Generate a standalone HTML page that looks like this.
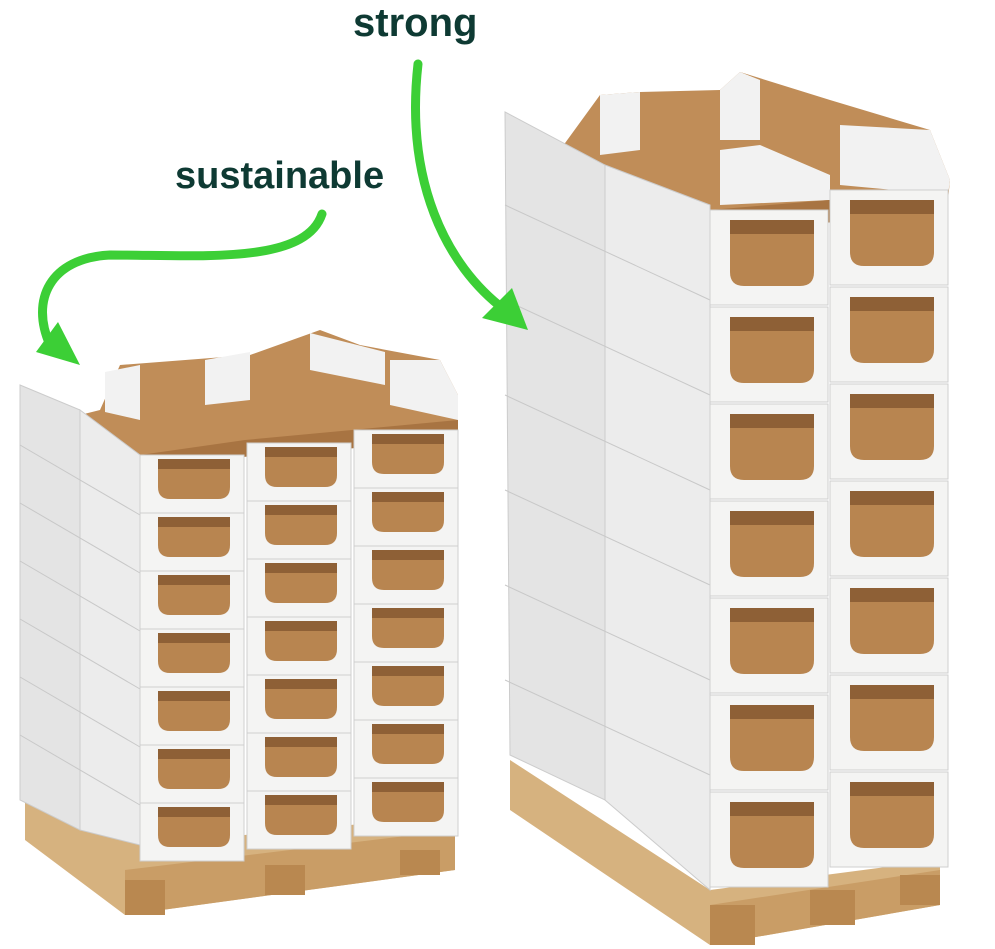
<!DOCTYPE html>
<html><head><meta charset="utf-8"><style>
html,body{margin:0;padding:0;background:#fff;}
svg{display:block;}
text{font-family:"Liberation Sans",sans-serif;font-weight:bold;fill:#0e3a33;}
</style></head><body>
<svg width="995" height="949" viewBox="0 0 995 949" xmlns="http://www.w3.org/2000/svg">
<defs>
<g id="boxL">
 <rect x="0" y="0" width="104" height="58" fill="#f4f4f3" stroke="#cfcfcf" stroke-width="1"/>
 <path d="M18,4 L90,4 L90,32 Q90,44 78,44 L30,44 Q18,44 18,32 Z" fill="#b88550"/>
 <path d="M18,4 L90,4 L90,14 L18,14 Z" fill="#8e6036"/>
</g>
<g id="boxR">
 <rect x="0" y="0" width="118" height="95" fill="#f4f4f3" stroke="#cfcfcf" stroke-width="1"/>
 <path d="M20,10 L104,10 L104,62 Q104,76 90,76 L34,76 Q20,76 20,62 Z" fill="#b88550"/>
 <path d="M20,10 L104,10 L104,24 L20,24 Z" fill="#8e6036"/>
</g>
</defs>

<text x="353" y="36" font-size="40">strong</text>
<text x="175" y="188" font-size="38">sustainable</text>

<!-- LEFT STACK -->
<polygon points="25,800 140,845 455,815 455,870 125,915 25,840" fill="#d6b27f"/>
<polygon points="125,870 455,830 455,870 125,915" fill="#c99d66"/>
<rect x="125" y="880" width="40" height="35" fill="#b98850"/>
<rect x="265" y="865" width="40" height="30" fill="#b98850"/>
<rect x="400" y="850" width="40" height="25" fill="#b98850"/>
<polygon points="100,410 120,365 250,355 320,330 360,345 440,360 458,395 458,440 140,455 80,415" fill="#c08d58"/>
<polygon points="105,372 140,365 140,420 105,412" fill="#f2f2f2"/>
<polygon points="205,360 250,352 250,400 205,405" fill="#f2f2f2"/>
<polygon points="310,333 385,352 385,385 310,370" fill="#f2f2f2"/>
<polygon points="390,360 440,360 458,395 458,420 390,405" fill="#f2f2f2"/>
<polygon points="140,455 245,440 352,430 458,420 458,440 140,465" fill="#a87442"/>
<polygon points="20,385 80,410 80,830 20,800" fill="#e4e4e4" stroke="#ccc"/>
<polygon points="80,410 140,455 140,845 80,830" fill="#ececec" stroke="#ccc"/>
<g stroke="#c8c8c8" stroke-width="1">
<line x1="20" y1="445" x2="140" y2="515"/><line x1="20" y1="503" x2="140" y2="573"/>
<line x1="20" y1="561" x2="140" y2="631"/><line x1="20" y1="619" x2="140" y2="689"/>
<line x1="20" y1="677" x2="140" y2="747"/><line x1="20" y1="735" x2="140" y2="805"/>
</g>
<g transform="translate(140,455)">
 <use href="#boxL" y="0"/><use href="#boxL" y="58"/><use href="#boxL" y="116"/><use href="#boxL" y="174"/><use href="#boxL" y="232"/><use href="#boxL" y="290"/><use href="#boxL" y="348"/>
</g>
<g transform="translate(247,443)">
 <use href="#boxL" y="0"/><use href="#boxL" y="58"/><use href="#boxL" y="116"/><use href="#boxL" y="174"/><use href="#boxL" y="232"/><use href="#boxL" y="290"/><use href="#boxL" y="348"/>
</g>
<g transform="translate(354,430)">
 <use href="#boxL" y="0"/><use href="#boxL" y="58"/><use href="#boxL" y="116"/><use href="#boxL" y="174"/><use href="#boxL" y="232"/><use href="#boxL" y="290"/><use href="#boxL" y="348"/>
</g>

<!-- RIGHT STACK -->
<polygon points="510,760 710,890 940,860 940,905 710,945 510,810" fill="#d6b27f"/>
<polygon points="710,905 940,870 940,905 710,945" fill="#c99d66"/>
<rect x="710" y="905" width="45" height="40" fill="#b98850"/>
<rect x="810" y="890" width="45" height="35" fill="#b98850"/>
<rect x="900" y="875" width="40" height="30" fill="#b98850"/>
<polygon points="560,150 600,95 640,92 720,90 740,72 830,100 930,130 950,180 948,200 710,210 605,165" fill="#c08d58"/>
<polygon points="600,95 640,92 640,150 600,155" fill="#f2f2f2"/>
<polygon points="720,90 740,72 760,80 760,140 720,140" fill="#f2f2f2"/>
<polygon points="720,150 760,145 830,175 830,200 720,205" fill="#f2f2f2"/>
<polygon points="840,125 930,130 950,180 948,195 840,185" fill="#f2f2f2"/>
<polygon points="605,165 710,210 948,190 948,215 710,230 605,185" fill="#a87442"/>
<polygon points="505,112 605,165 605,800 510,755" fill="#e4e4e4" stroke="#ccc"/>
<polygon points="605,165 710,205 710,890 605,800" fill="#ececec" stroke="#ccc"/>
<g stroke="#c8c8c8" stroke-width="1">
<line x1="505" y1="205" x2="710" y2="300"/><line x1="505" y1="300" x2="710" y2="395"/>
<line x1="505" y1="395" x2="710" y2="490"/><line x1="505" y1="490" x2="710" y2="585"/>
<line x1="505" y1="585" x2="710" y2="680"/><line x1="505" y1="680" x2="710" y2="775"/>
</g>
<g transform="translate(710,210)">
 <use href="#boxR" y="0"/><use href="#boxR" y="97"/><use href="#boxR" y="194"/><use href="#boxR" y="291"/><use href="#boxR" y="388"/><use href="#boxR" y="485"/><use href="#boxR" y="582"/>
</g>
<g transform="translate(830,190)">
 <use href="#boxR" y="0"/><use href="#boxR" y="97"/><use href="#boxR" y="194"/><use href="#boxR" y="291"/><use href="#boxR" y="388"/><use href="#boxR" y="485"/><use href="#boxR" y="582"/>
</g>

<g fill="none" stroke="#3ccf36" stroke-width="9" stroke-linecap="round">
 <path d="M322,214 C305,265 200,255 110,255 C50,258 30,300 50,345"/>
 <path d="M418,64 C405,180 445,265 505,310"/>
</g>
<polygon points="36,352 80,365 58,322" fill="#3ccf36"/>
<polygon points="482,318 528,330 512,288" fill="#3ccf36"/>
</svg>
</body></html>
